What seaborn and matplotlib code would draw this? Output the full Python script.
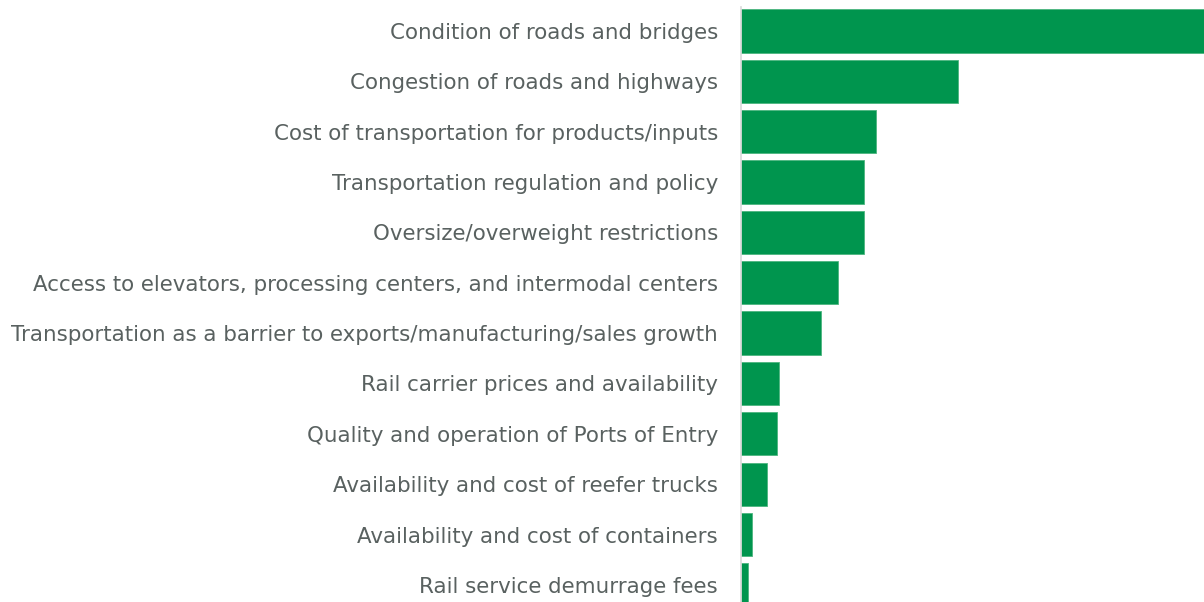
import matplotlib
matplotlib.use("Agg")
import matplotlib.pyplot as plt
import seaborn as sns
import pandas as pd

issues = [
    "Condition of roads and bridges",
    "Congestion of roads and highways",
    "Cost of transportation for products/inputs",
    "Transportation regulation and policy",
    "Oversize/overweight restrictions",
    "Access to elevators, processing centers, and intermodal centers",
    "Transportation as a barrier to exports/manufacturing/sales growth",
    "Rail carrier prices and availability",
    "Quality and operation of Ports of Entry",
    "Availability and cost of reefer trucks",
    "Availability and cost of containers",
    "Rail service demurrage fees",
]
scores = [463, 217, 135, 123, 123, 97, 80, 38, 36, 26, 11, 7]

df = pd.DataFrame({"issue": issues, "score": scores})

sns.set_theme(style="white")
plt.rcParams["font.family"] = ["DejaVu Sans"]

fig = plt.figure(figsize=(12.04, 6.02), dpi=100)
ax = fig.add_axes([741 / 1204, 0, 463 / 1204, 1 - 7 / 602])

sns.barplot(data=df, x="score", y="issue", orient="h", color="#00954E",
            saturation=1, width=0.86, edgecolor="#4cb57f", linewidth=0.6, ax=ax)

ax.set_xlim(0, max(scores))
ax.set_ylim(11.34, -0.477)
ax.set_xlabel("")
ax.set_ylabel("")
ax.set_xticks([])
for side in ["top", "right", "bottom"]:
    ax.spines[side].set_visible(False)
ax.spines["left"].set_color("#d9d9d9")
ax.spines["left"].set_linewidth(1.2)
ax.tick_params(axis="y", length=0, pad=16.5, labelsize=15.4, labelcolor="#596160")
for lbl in ax.get_yticklabels():
    lbl.set_verticalalignment("center_baseline")

fig.savefig("out.png", dpi=100)
